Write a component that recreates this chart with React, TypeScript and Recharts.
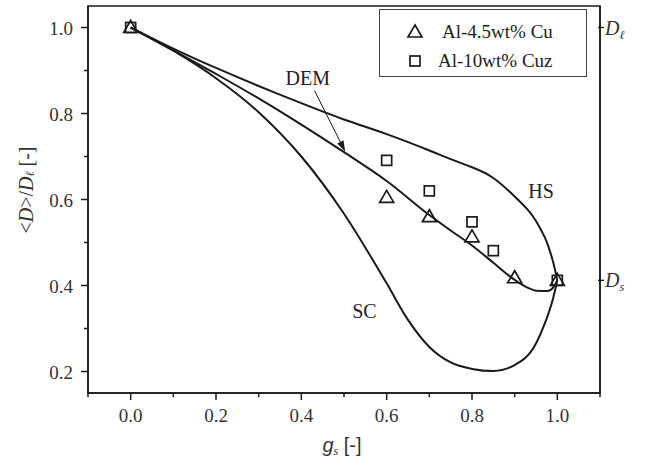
import React from 'react';
import { ComposedChart, Line, Scatter, XAxis, YAxis, ReferenceArea, ReferenceLine, ReferenceDot } from 'recharts';

// tick values
const xTicks = [-0.1, 0, 0.1, 0.2, 0.3, 0.4, 0.5, 0.6, 0.7, 0.8, 0.9, 1.0, 1.1];
const xMajor = [0, 0.2, 0.4, 0.6, 0.8, 1.0];
const yTicks = [0.2, 0.3, 0.4, 0.5, 0.6, 0.7, 0.8, 0.9, 1.0];
const yMajor = [0.2, 0.4, 0.6, 0.8, 1.0];
const rightTicks = [0.412, 1.0];
const rightSubs = ['s', 'ℓ'];

// measured points
const gs45 = [0, 0.6, 0.7, 0.8, 0.9, 1.0];
const d45 = [1.0, 0.605, 0.56, 0.513, 0.418, 0.412];
const gs10 = [0, 0.6, 0.7, 0.8, 0.85, 1.0];
const d10 = [1.0, 0.691, 0.62, 0.548, 0.481, 0.412];

// model curves
const hsG = [0, 0.1, 0.2, 0.3, 0.4, 0.5, 0.6, 0.7, 0.75, 0.8, 0.85, 0.9, 0.93, 0.95, 0.97, 0.98, 0.99, 1.0];
const hsD = [1.0, 0.951, 0.906, 0.864, 0.824, 0.786, 0.752, 0.714, 0.694, 0.675, 0.65, 0.607, 0.577, 0.55, 0.513, 0.488, 0.455, 0.412];
const demG = [0, 0.1, 0.2, 0.3, 0.4, 0.5, 0.6, 0.7, 0.75, 0.8, 0.85, 0.9, 0.93, 0.95, 0.977, 0.99, 1.0];
const demD = [1.0, 0.947, 0.892, 0.835, 0.774, 0.71, 0.643, 0.564, 0.528, 0.493, 0.453, 0.413, 0.395, 0.388, 0.387, 0.395, 0.412];
const scG = [0, 0.1, 0.2, 0.3, 0.4, 0.5, 0.6, 0.65, 0.7, 0.75, 0.8, 0.85, 0.9, 0.95, 0.97, 0.99, 1.0];
const scD = [1.0, 0.946, 0.882, 0.803, 0.7, 0.567, 0.405, 0.32, 0.257, 0.221, 0.206, 0.201, 0.215, 0.265, 0.31, 0.37, 0.412];

const zip = (xs: number[], ys: number[]) => xs.map((x, i) => ({ x, y: ys[i] }));

const serif = '"Liberation Serif", "Times New Roman", serif';
const sans = '"Liberation Sans", Arial, sans-serif';
const ink = '#1a1a1a';

const Triangle = (p: any) => {
  const { cx, cy } = p;
  return <polygon points={`${cx},${cy - 7} ${cx - 7},${cy + 5} ${cx + 7},${cy + 5}`} fill="none" stroke={ink} strokeWidth={1.7} />;
};

const Square = (p: any) => {
  const { cx, cy } = p;
  return <rect x={cx - 5} y={cy - 5} width={10} height={10} fill="none" stroke={ink} strokeWidth={1.7} />;
};

const XTick = (p: any) => {
  const { x, y, payload } = p;
  const major = xMajor.some(v => Math.abs(v - payload.value) < 1e-6);
  return (
    <g>
      <line x1={x} y1={y} x2={x} y2={y + (major ? 7 : 4)} stroke={ink} strokeWidth={1.5} />
      {major && (
        <text x={x} y={y + 29} textAnchor="middle" fontFamily={serif} fontSize={19} fill="#333">
          {payload.value.toFixed(1)}
        </text>
      )}
    </g>
  );
};

const YTick = (p: any) => {
  const { x, y, payload } = p;
  const major = yMajor.some(v => Math.abs(v - payload.value) < 1e-6);
  return (
    <g>
      <line x1={x} y1={y} x2={x - (major ? 7 : 4)} y2={y} stroke={ink} strokeWidth={1.5} />
      {major && (
        <text x={x - 15} y={y + 7} textAnchor="end" fontFamily={serif} fontSize={19} fill="#333">
          {payload.value.toFixed(1)}
        </text>
      )}
    </g>
  );
};

const RTick = (p: any) => {
  const { x, y, index } = p;
  return (
    <g>
      <line x1={x - 2} y1={y} x2={x + 4} y2={y} stroke={ink} strokeWidth={1.3} />
      <text x={x + 5} y={y + 7} fontFamily={serif} fontSize={20} fill="#333">
        <tspan fontStyle="italic">D</tspan>
        <tspan fontStyle="italic" fontSize={12} dy={4}>{rightSubs[index]}</tspan>
      </text>
    </g>
  );
};

const XTitle = () => (
  <text x={342} y={452} textAnchor="middle" fontFamily={sans} fontSize={20} fill="#333">
    <tspan fontStyle="italic">g</tspan>
    <tspan fontFamily={serif} fontStyle="italic" fontSize={12} dy={3}>s</tspan>
    <tspan dy={-3}> [-]</tspan>
  </text>
);

const YTitle = () => (
  <text x={26} y={190} transform="rotate(-90, 26, 190)" textAnchor="middle" dominantBaseline="central" fontFamily={serif} fontSize={20} fill="#333">
    {'<'}
    <tspan fontStyle="italic">D</tspan>
    {'>/'}
    <tspan fontStyle="italic">D</tspan>
    <tspan fontStyle="italic" fontSize={12} dy={4}>ℓ</tspan>
    <tspan dy={-4}> [-]</tspan>
  </text>
);

const Arrow = (p: any) => {
  const { x1, y1, x2, y2 } = p;
  const a = Math.atan2(y2 - y1, x2 - x1);
  const len = 11;
  const w = 3.5;
  const bx = x2 - len * Math.cos(a);
  const by = y2 - len * Math.sin(a);
  const px = -Math.sin(a) * w;
  const py = Math.cos(a) * w;
  return (
    <g>
      <line x1={x1} y1={y1} x2={bx} y2={by} stroke={ink} strokeWidth={1} />
      <polygon points={`${x2},${y2} ${bx + px},${by + py} ${bx - px},${by - py}`} fill={ink} />
    </g>
  );
};

const LegendBox = () => (
  <svg width={208} height={68} style={{ position: 'absolute', left: 379, top: 9 }}>
    <rect x={0.5} y={0.5} width={207} height={67} fill="#fff" stroke="#444" strokeWidth={1} />
    <Triangle cx={36} cy={23} />
    <text x={63} y={29} fontFamily={serif} fontSize={19} fill="#222">Al-4.5wt% Cu</text>
    <Square cx={36} cy={52} />
    <text x={59} y={58} fontFamily={serif} fontSize={19} fill="#222">Al-10wt% Cuz</text>
  </svg>
);

export default function App() {
  const hs = zip(hsG, hsD);
  const dem = zip(demG, demD);
  const sc = zip(scG, scD);
  const al45 = zip(gs45, d45);
  const al10 = zip(gs10, d10);

  return (
    <div style={{ position: 'absolute', left: 0, top: 0, width: 645, height: 459, background: '#fff' }}>
      <ComposedChart width={645} height={459} margin={{ top: 6, right: 0, bottom: 0, left: 0 }}>
        <XAxis
          dataKey="x"
          type="number"
          domain={[-0.1, 1.1]}
          ticks={xTicks}
          interval={0}
          allowDataOverflow
          height={66}
          tickSize={0}
          tickMargin={0}
          tickLine={false}
          tick={<XTick />}
          stroke={ink}
          strokeWidth={1.5}
          label={<XTitle />}
        />
        <YAxis
          dataKey="y"
          type="number"
          domain={[0.15, 1.05]}
          ticks={yTicks}
          interval={0}
          allowDataOverflow
          width={88}
          tickSize={0}
          tickMargin={0}
          tickLine={false}
          tick={<YTick />}
          stroke={ink}
          strokeWidth={1.5}
          label={<YTitle />}
        />
        <YAxis
          yAxisId="r"
          orientation="right"
          type="number"
          domain={[0.15, 1.05]}
          ticks={rightTicks}
          interval={0}
          allowDataOverflow
          width={45}
          tickSize={0}
          tickMargin={0}
          tickLine={false}
          tick={<RTick />}
          stroke={ink}
          strokeWidth={1.5}
        />
        <ReferenceArea x1={-0.1} x2={1.1} y1={0.15} y2={1.05} fill="none" stroke={ink} strokeWidth={1.5} fillOpacity={0} />
        <Line data={hs} dataKey="y" type="natural" dot={false} stroke={ink} strokeWidth={2} isAnimationActive={false} />
        <Line data={dem} dataKey="y" type="monotone" dot={false} stroke={ink} strokeWidth={2} isAnimationActive={false} />
        <Line data={sc} dataKey="y" type="monotone" dot={false} stroke={ink} strokeWidth={2} isAnimationActive={false} />
        <Scatter name="Al-4.5wt% Cu" data={al45} dataKey="y" shape={<Triangle />} isAnimationActive={false} />
        <Scatter name="Al-10wt% Cuz" data={al10} dataKey="y" shape={<Square />} isAnimationActive={false} />
        <ReferenceLine segment={[{ x: 0.431, y: 0.853 }, { x: 0.503, y: 0.711 }]} shape={<Arrow />} />
        <ReferenceDot x={0.415} y={0.883} r={0} fill="none" stroke="none" label={{ value: 'DEM', position: 'center', fill: '#222', fontSize: 20, fontFamily: serif }} />
        <ReferenceDot x={0.962} y={0.62} r={0} fill="none" stroke="none" label={{ value: 'HS', position: 'center', fill: '#222', fontSize: 20, fontFamily: serif }} />
        <ReferenceDot x={0.548} y={0.342} r={0} fill="none" stroke="none" label={{ value: 'SC', position: 'center', fill: '#222', fontSize: 20, fontFamily: serif }} />
      </ComposedChart>
      <LegendBox />
    </div>
  );
}
